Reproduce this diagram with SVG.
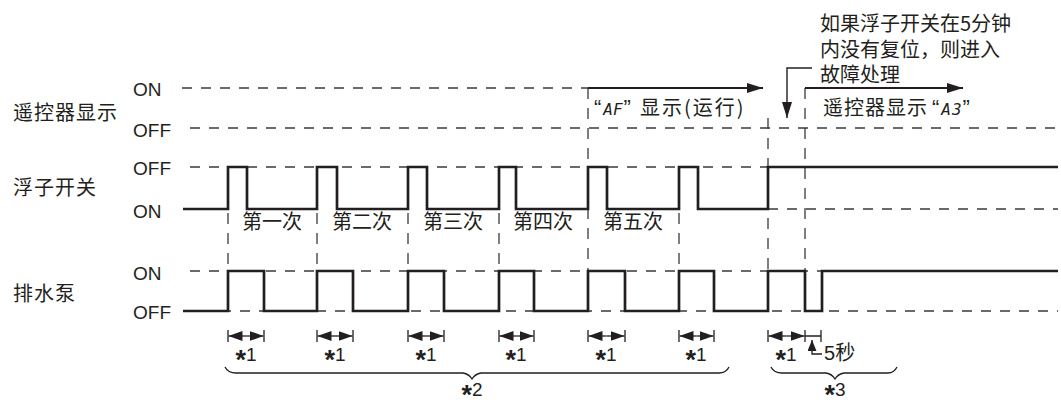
<svg xmlns="http://www.w3.org/2000/svg" width="1061" height="403" viewBox="0 0 1061 403">
<style>
.bg{fill:#fff}
.lbl{font-family:"Noto Sans CJK SC","Noto Sans",sans-serif;font-size:20px;letter-spacing:1px;fill:#231f20}
.st{font-family:"Liberation Sans",Arial,sans-serif;font-size:19px;fill:#231f20}
.note{font-family:"Noto Sans CJK SC","Noto Sans",sans-serif;font-size:20px;fill:#231f20}
.num{font-family:"Liberation Sans",Arial,sans-serif;font-size:19px;fill:#231f20;text-anchor:middle}
.ast{font-size:27px;font-weight:bold}
.q{font-family:"Liberation Sans",Arial,sans-serif;font-size:22px}
.seg{font-family:"DejaVu Sans Mono","Liberation Mono",monospace;font-style:italic;font-size:16px}
.sig{fill:none;stroke:#231f20;stroke-width:2.7;stroke-linejoin:miter}
.dh{fill:none;stroke:#3a3a3a;stroke-width:1.3;stroke-dasharray:10 9}
.dv{fill:none;stroke:#3a3a3a;stroke-width:1.3;stroke-dasharray:11 9}
.ln{fill:none;stroke:#231f20;stroke-width:1.4}
.arr{fill:none;stroke:#231f20;stroke-width:2}
.dim{fill:none;stroke:#231f20;stroke-width:1.3}
</style>
<defs>
<marker id="ah" viewBox="0 0 16 10" refX="16" refY="5" markerWidth="16" markerHeight="10" markerUnits="userSpaceOnUse" orient="auto">
<path d="M0,0 L16,5 L0,10 z" fill="#231f20"/>
</marker>
<marker id="dh" viewBox="0 0 14 10" refX="14" refY="5" markerWidth="14" markerHeight="10" markerUnits="userSpaceOnUse" orient="auto">
<path d="M0,0 L14,5 L0,10 z" fill="#231f20"/>
</marker>
<marker id="sh" viewBox="0 0 11 9" refX="11" refY="4.5" markerWidth="11" markerHeight="9" markerUnits="userSpaceOnUse" orient="auto">
<path d="M0,0 L11,4.5 L0,9 z" fill="#231f20"/>
</marker>
</defs>
<rect class="bg" x="0" y="0" width="1061" height="403"/>

<g id="labels">
<text class="lbl" x="13" y="120">遥控器显示</text>
<text class="lbl" x="13" y="195">浮子开关</text>
<text class="lbl" x="13" y="301">排水泵</text>
<text class="st" x="133" y="96">ON</text>
<text class="st" x="133" y="137">OFF</text>
<text class="st" x="133" y="175">OFF</text>
<text class="st" x="133" y="218">ON</text>
<text class="st" x="133" y="280">ON</text>
<text class="st" x="133" y="319">OFF</text>
</g>

<g id="grid">
<line class="dh" x1="182" y1="88" x2="588" y2="88"/>
<line class="dh" x1="190" y1="128" x2="1058" y2="128"/>
<line class="dh" x1="190" y1="167" x2="768" y2="167"/>
<line class="dh" x1="768" y1="209" x2="1058" y2="209"/>
<line class="dh" x1="190" y1="271" x2="822" y2="271"/>
<line class="dh" x1="183" y1="311" x2="1058" y2="311"/>
<path class="dv" d="M228,213V271M317,213V271M408,213V271M499,213V271M679,213V271"/>
<path class="dv" d="M588,88V271"/>
<path class="dv" d="M768,118V271"/>
<path class="dv" d="M805,88V271"/>
</g>

<g id="remote-display">
<line class="arr" x1="588" y1="88" x2="763" y2="88" marker-end="url(#ah)"/>
<line class="arr" x1="805" y1="88" x2="963" y2="88" marker-end="url(#ah)"/>
<text class="note" x="594" y="115"><tspan class="q">“</tspan><tspan class="seg" dx="2">AF</tspan><tspan class="q" dx="1">”</tspan><tspan dx="9" letter-spacing="2">显示(运行)</tspan></text>
<text class="note" x="823" y="115" letter-spacing="1">遥控器显示<tspan class="q" dx="4">“</tspan><tspan class="seg" dx="1">A3</tspan><tspan class="q">”</tspan></text>
</g>

<g id="float-switch">
<path class="sig" d="M183,209H228V167H247V209H317V167H337V209H408V167H427V209H499V167H516V209H588V167H607V209H679V167H698V209H768V167H1058"/>
<text class="note" x="272" y="229" text-anchor="middle">第一次</text>
<text class="note" x="362" y="229" text-anchor="middle">第二次</text>
<text class="note" x="453" y="229" text-anchor="middle">第三次</text>
<text class="note" x="543" y="229" text-anchor="middle">第四次</text>
<text class="note" x="633" y="229" text-anchor="middle">第五次</text>
</g>

<g id="drain-pump">
<path class="sig" d="M183,311H228V271H264V311H317V271H353V311H408V271H444V311H499V271H534V311H588V271H625V311H679V271H714V311H768V271H805V311H822V271H1058"/>
</g>

<g id="note">
<text class="note" x="820" y="31" font-size="21">如果浮子开关在5分钟</text>
<text class="note" x="820" y="57" font-size="21">内没有复位，则进入</text>
<text class="note" x="820" y="82" font-size="21">故障处理</text>
<path class="ln" d="M812,68H787V118" marker-end="url(#ah)"/>
</g>

<g id="connectors">
<path class="dim" d="M228,330V342M264,330V342M317,330V342M353,330V342M408,330V342M444,330V342M499,330V342M534,330V342M588,330V342M625,330V342M679,330V342M714,330V342M768,330V342M805,330V342M821,330V342M805,336H821"/>
<line class="dim" x1="246" y1="336" x2="228.5" y2="336" marker-end="url(#dh)"/>
<line class="dim" x1="246" y1="336" x2="263.5" y2="336" marker-end="url(#dh)"/>
<line class="dim" x1="335" y1="336" x2="317.5" y2="336" marker-end="url(#dh)"/>
<line class="dim" x1="335" y1="336" x2="352.5" y2="336" marker-end="url(#dh)"/>
<line class="dim" x1="426" y1="336" x2="408.5" y2="336" marker-end="url(#dh)"/>
<line class="dim" x1="426" y1="336" x2="443.5" y2="336" marker-end="url(#dh)"/>
<line class="dim" x1="516.5" y1="336" x2="499.5" y2="336" marker-end="url(#dh)"/>
<line class="dim" x1="516.5" y1="336" x2="533.5" y2="336" marker-end="url(#dh)"/>
<line class="dim" x1="606.5" y1="336" x2="588.5" y2="336" marker-end="url(#dh)"/>
<line class="dim" x1="606.5" y1="336" x2="624.5" y2="336" marker-end="url(#dh)"/>
<line class="dim" x1="696.5" y1="336" x2="679.5" y2="336" marker-end="url(#dh)"/>
<line class="dim" x1="696.5" y1="336" x2="713.5" y2="336" marker-end="url(#dh)"/>
<line class="dim" x1="786.5" y1="336" x2="768.5" y2="336" marker-end="url(#dh)"/>
<line class="dim" x1="786.5" y1="336" x2="804.5" y2="336" marker-end="url(#dh)"/>
<path class="dim" d="M822,354H812V340" marker-end="url(#sh)"/>
<path class="dim" d="M225,367Q228,373 236,373H463Q469,374 472,379Q475,374 481,373H719Q726,373 729,367"/>
<path class="dim" d="M771,367Q774,373 782,373H826Q832,374 835,379Q838,374 844,373H888Q894,373 897,367"/>
</g>

<g id="annotations">
<text class="num" x="246" y="361"><tspan class="ast" dy="8">*</tspan><tspan dy="-8">1</tspan></text>
<text class="num" x="335" y="361"><tspan class="ast" dy="8">*</tspan><tspan dy="-8">1</tspan></text>
<text class="num" x="426" y="361"><tspan class="ast" dy="8">*</tspan><tspan dy="-8">1</tspan></text>
<text class="num" x="516" y="361"><tspan class="ast" dy="8">*</tspan><tspan dy="-8">1</tspan></text>
<text class="num" x="606" y="361"><tspan class="ast" dy="8">*</tspan><tspan dy="-8">1</tspan></text>
<text class="num" x="696" y="361"><tspan class="ast" dy="8">*</tspan><tspan dy="-8">1</tspan></text>
<text class="num" x="786" y="361"><tspan class="ast" dy="8">*</tspan><tspan dy="-8">1</tspan></text>
<text class="note" x="824" y="360" font-size="19"><tspan font-family="Liberation Sans,sans-serif">5</tspan>秒</text>
<text class="num" x="472" y="396"><tspan class="ast" dy="8">*</tspan><tspan dy="-8">2</tspan></text>
<text class="num" x="835" y="396"><tspan class="ast" dy="8">*</tspan><tspan dy="-8">3</tspan></text>
</g>
</svg>
